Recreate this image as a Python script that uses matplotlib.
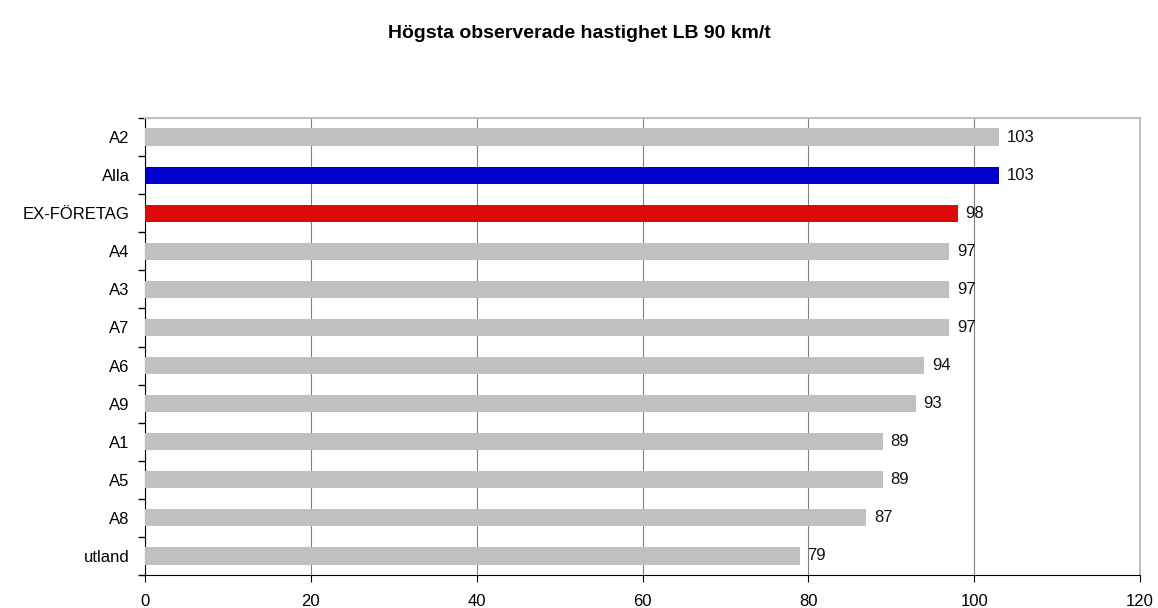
import matplotlib
matplotlib.use("Agg")
import matplotlib.pyplot as plt
import numpy as np

plt.rcParams['font.family'] = ['Liberation Sans', 'DejaVu Sans']

categories = ['A2', 'Alla', 'EX-FÖRETAG', 'A4', 'A3', 'A7', 'A6', 'A9', 'A1', 'A5', 'A8', 'utland']
values = [103, 103, 98, 97, 97, 97, 94, 93, 89, 89, 87, 79]
colors = ['#c0c0c0', '#0000cc', '#dd0a0a'] + ['#c0c0c0'] * 9

fig = plt.figure(figsize=(11.58, 6.08), dpi=100)
ax = fig.add_axes([145 / 1158, 1 - 575 / 608, (1140 - 145) / 1158, (575 - 118) / 608])

y = np.arange(len(categories))
ax.barh(y, values, height=0.45, color=colors, zorder=3)
for yi, v in zip(y, values):
    ax.text(v + 0.9, yi, str(v), va='center', ha='left', fontsize=12, color='#111111', zorder=4)

ax.set_xlim(0, 120)
ax.set_ylim(len(categories) - 0.5, -0.5)
ax.set_xticks(range(0, 121, 20))
ax.set_yticks(y)
ax.set_yticklabels(categories)
ax.set_yticks(np.arange(-0.5, len(categories), 1), minor=True)
ax.tick_params(axis='y', which='major', length=0, pad=11, labelsize=12)
ax.tick_params(axis='y', which='minor', length=5, direction='out', width=1)
ax.tick_params(axis='x', length=5, direction='out', labelsize=12, pad=9)
ax.grid(axis='x', color='#808080', linewidth=0.8, zorder=0)

ax.spines['left'].set_color('black')
ax.spines['bottom'].set_color('black')
ax.spines['top'].set_color('#c0c0c0')
ax.spines['right'].set_color('#c0c0c0')
ax.spines['top'].set_linewidth(1.5)
ax.spines['right'].set_linewidth(1.5)

fig.text(0.5, 1 - 33 / 608, 'Högsta observerade hastighet LB 90 km/t', ha='center', va='center',
         fontsize=14, fontweight='bold')

fig.savefig('out.png', dpi=100)
